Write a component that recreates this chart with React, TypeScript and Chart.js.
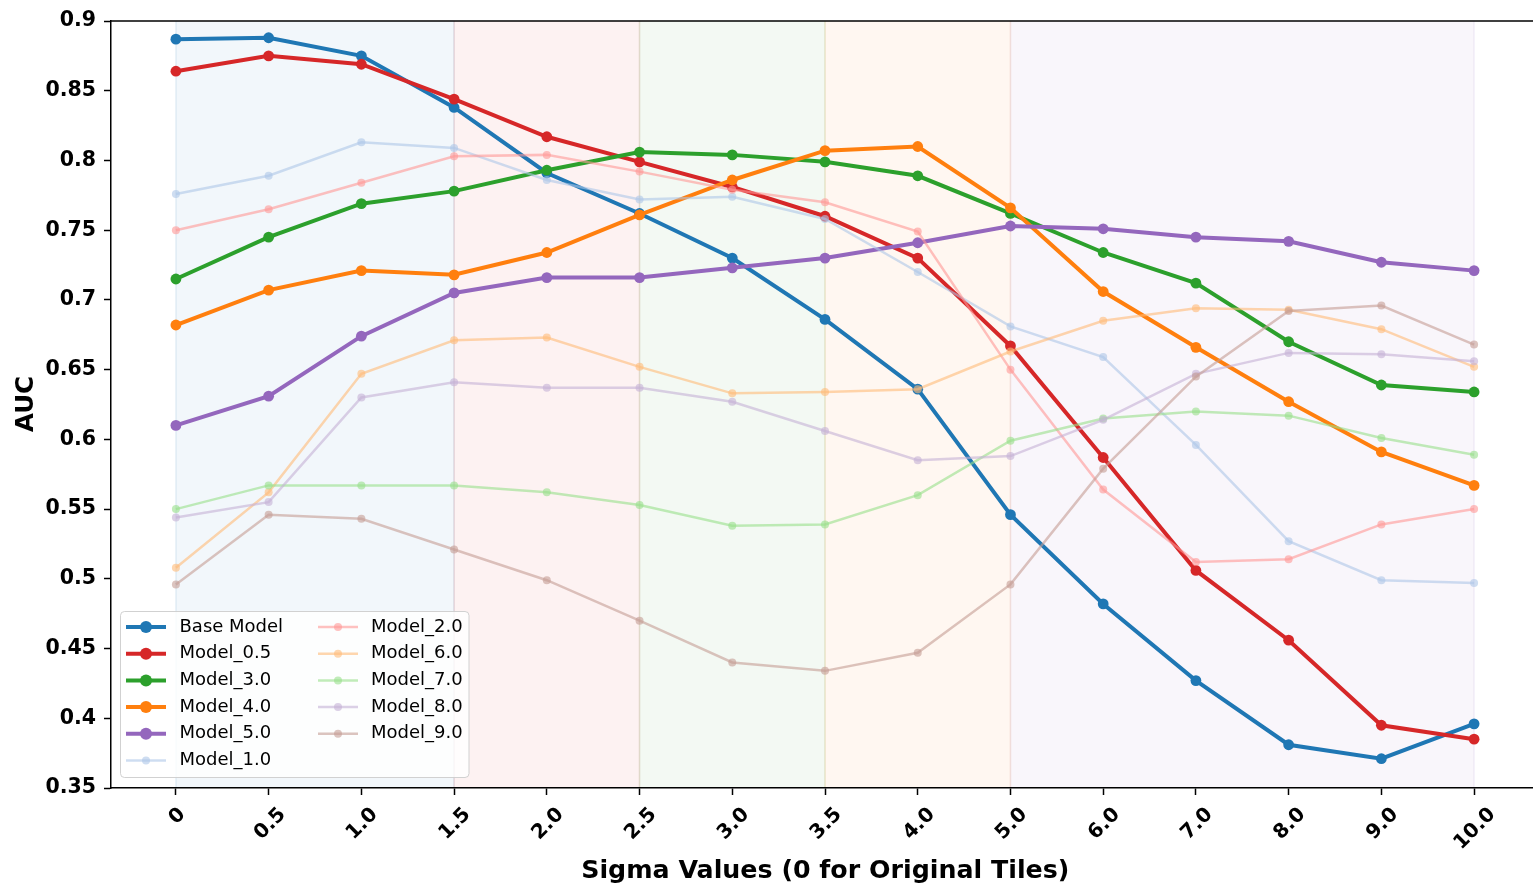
import React, { useEffect, useRef } from "react";
import { Chart, registerables } from "chart.js";

Chart.register(...registerables);

// ---------- data ----------
const xLabels = ["0", "0.5", "1.0", "1.5", "2.0", "2.5", "3.0", "3.5", "4.0", "5.0", "6.0", "7.0", "8.0", "9.0", "10.0"];

const yTicks = [0.35, 0.4, 0.45, 0.5, 0.55, 0.6, 0.65, 0.7, 0.75, 0.8, 0.85, 0.9];
const yTickLabels = ["0.35", "0.4", "0.45", "0.5", "0.55", "0.6", "0.65", "0.7", "0.75", "0.8", "0.85", "0.9"];

const baseModel = [0.887, 0.888, 0.875, 0.838, 0.791, 0.762, 0.730, 0.686, 0.636, 0.546, 0.482, 0.427, 0.381, 0.371, 0.396];
const model05 = [0.864, 0.875, 0.869, 0.844, 0.817, 0.799, 0.781, 0.760, 0.730, 0.667, 0.587, 0.506, 0.456, 0.395, 0.385];
const model30 = [0.715, 0.745, 0.769, 0.778, 0.793, 0.806, 0.804, 0.799, 0.789, 0.762, 0.734, 0.712, 0.670, 0.639, 0.634];
const model40 = [0.682, 0.707, 0.721, 0.718, 0.734, 0.761, 0.786, 0.807, 0.810, 0.766, 0.706, 0.666, 0.627, 0.591, 0.567];
const model50 = [0.610, 0.631, 0.674, 0.705, 0.716, 0.716, 0.723, 0.730, 0.741, 0.753, 0.751, 0.745, 0.742, 0.727, 0.721];
const model10 = [0.776, 0.789, 0.813, 0.809, 0.786, 0.772, 0.774, 0.758, 0.720, 0.681, 0.659, 0.596, 0.527, 0.499, 0.497];
const model20 = [0.750, 0.765, 0.784, 0.803, 0.804, 0.792, 0.779, 0.770, 0.749, 0.650, 0.564, 0.512, 0.514, 0.539, 0.550];
const model60 = [0.508, 0.562, 0.647, 0.671, 0.673, 0.652, 0.633, 0.634, 0.636, 0.663, 0.685, 0.694, 0.693, 0.679, 0.652];
const model70 = [0.550, 0.567, 0.567, 0.567, 0.562, 0.553, 0.538, 0.539, 0.560, 0.599, 0.615, 0.620, 0.617, 0.601, 0.589];
const model80 = [0.544, 0.555, 0.630, 0.641, 0.637, 0.637, 0.627, 0.606, 0.585, 0.588, 0.614, 0.647, 0.662, 0.661, 0.656];
const model90 = [0.496, 0.546, 0.543, 0.521, 0.499, 0.470, 0.440, 0.434, 0.447, 0.496, 0.579, 0.645, 0.692, 0.696, 0.668];

const seriesNames = ["Base Model", "Model_0.5", "Model_3.0", "Model_4.0", "Model_5.0", "Model_1.0", "Model_2.0", "Model_6.0", "Model_7.0", "Model_8.0", "Model_9.0"];
const seriesValues = [baseModel, model05, model30, model40, model50, model10, model20, model60, model70, model80, model90];

// shaded sigma bands (by x category label)
const bandStarts = ["0", "1.5", "2.5", "3.5", "5.0"];
const bandEnds = ["1.5", "2.5", "3.5", "5.0", "10.0"];

const xTitle = "Sigma Values (0 for Original Tiles)";
const yTitle = "AUC";

// ---------- styles ----------
const FONT = "'DejaVu Sans', 'Liberation Sans', sans-serif";
const seriesColors = [
  "rgb(31,119,180)",
  "rgb(214,39,40)",
  "rgb(44,160,44)",
  "rgb(255,127,14)",
  "rgb(148,103,189)",
  "rgba(174,199,232,0.6)",
  "rgba(255,152,150,0.6)",
  "rgba(255,187,120,0.6)",
  "rgba(152,223,138,0.6)",
  "rgba(197,176,213,0.6)",
  "rgba(196,156,148,0.6)",
];
const seriesMain = [true, true, true, true, true, false, false, false, false, false, false];
const bandRGB = ["31,119,180", "214,39,40", "44,160,44", "255,127,14", "148,103,189"];

function inkText(ctx: CanvasRenderingContext2D, text: string, cx: number, cy: number, angle: number) {
  const m = ctx.measureText(text);
  const l = m.actualBoundingBoxLeft;
  const r = m.actualBoundingBoxRight;
  const a = m.actualBoundingBoxAscent;
  const d = m.actualBoundingBoxDescent;
  ctx.save();
  ctx.translate(cx, cy);
  ctx.rotate(angle);
  ctx.textAlign = "left";
  ctx.textBaseline = "alphabetic";
  ctx.fillText(text, -(r - l) / 2, (a - d) / 2);
  ctx.restore();
  return { w: l + r, h: a + d };
}

const decorPlugin = {
  id: "decor",
  beforeDraw(chart: any) {
    const { ctx, chartArea } = chart;
    const xs = chart.scales.x;
    ctx.save();
    ctx.fillStyle = "#ffffff";
    ctx.fillRect(0, 0, chart.width, chart.height);
    bandStarts.forEach((s, i) => {
      const x0 = xs.getPixelForValue(xLabels.indexOf(s));
      const x1 = xs.getPixelForValue(xLabels.indexOf(bandEnds[i]));
      ctx.fillStyle = `rgba(${bandRGB[i]},0.06)`;
      ctx.fillRect(x0, chartArea.top, x1 - x0, chartArea.bottom - chartArea.top);
      ctx.strokeStyle = `rgba(${bandRGB[i]},0.1)`;
      ctx.lineWidth = 1.5;
      ctx.beginPath();
      ctx.moveTo(x0, chartArea.top);
      ctx.lineTo(x0, chartArea.bottom);
      ctx.moveTo(x1, chartArea.top);
      ctx.lineTo(x1, chartArea.bottom);
      ctx.stroke();
    });
    ctx.restore();
  },
  afterDraw(chart: any) {
    const { ctx, chartArea } = chart;
    const xs = chart.scales.x;
    ctx.save();
    // top spine
    ctx.strokeStyle = "#000";
    ctx.lineWidth = 1.5;
    ctx.beginPath();
    ctx.moveTo(chartArea.left, chartArea.top);
    ctx.lineTo(chartArea.right, chartArea.top);
    ctx.stroke();

    // x tick labels rotated 45, centred on tick
    ctx.fillStyle = "#000";
    ctx.font = `bold 20px ${FONT}`;
    xLabels.forEach((lab, i) => {
      const px = xs.getPixelForValue(i);
      const m = ctx.measureText(lab);
      const L = m.actualBoundingBoxLeft + m.actualBoundingBoxRight;
      const H = m.actualBoundingBoxAscent + m.actualBoundingBoxDescent;
      const diag = (L + H) * Math.SQRT1_2;
      inkText(ctx, lab, px, chartArea.bottom + 18 + diag / 2, -Math.PI / 4);
    });

    // axis titles
    ctx.font = `bold 25.3px ${FONT}`;
    inkText(ctx, xTitle, (chartArea.left + chartArea.right) / 2, 871, 0);
    ctx.font = `bold 24.5px ${FONT}`;
    inkText(ctx, yTitle, 24, (chartArea.top + chartArea.bottom) / 2, -Math.PI / 2);

    // legend
    const bx = 120.5, by = 611.5, bw = 348.5, bh = 166, rad = 4;
    ctx.beginPath();
    ctx.moveTo(bx + rad, by);
    ctx.lineTo(bx + bw - rad, by);
    ctx.arcTo(bx + bw, by, bx + bw, by + rad, rad);
    ctx.lineTo(bx + bw, by + bh - rad);
    ctx.arcTo(bx + bw, by + bh, bx + bw - rad, by + bh, rad);
    ctx.lineTo(bx + rad, by + bh);
    ctx.arcTo(bx, by + bh, bx, by + bh - rad, rad);
    ctx.lineTo(bx, by + rad);
    ctx.arcTo(bx, by, bx + rad, by, rad);
    ctx.closePath();
    ctx.fillStyle = "rgba(255,255,255,0.8)";
    ctx.fill();
    ctx.strokeStyle = "rgba(204,204,204,0.9)";
    ctx.lineWidth = 1;
    ctx.stroke();

    ctx.font = `18px ${FONT}`;
    ctx.textBaseline = "middle";
    ctx.textAlign = "left";
    const rowH = 26.7;
    chart.data.datasets.forEach((ds: any, i: number) => {
      const col = i < 6 ? 0 : 1;
      const row = col === 0 ? i : i - 6;
      const lx = col === 0 ? 126 : 318;
      const tx = col === 0 ? 179.5 : 371;
      const y = 627 + row * rowH;
      ctx.strokeStyle = ds.borderColor;
      ctx.lineWidth = ds.borderWidth;
      ctx.beginPath();
      ctx.moveTo(lx, y);
      ctx.lineTo(lx + 40, y);
      ctx.stroke();
      ctx.fillStyle = ds.pointBackgroundColor;
      ctx.beginPath();
      ctx.arc(lx + 20, y, ds.pointRadius + (seriesMain[i] ? 0.6 : 0), 0, Math.PI * 2);
      ctx.fill();
      ctx.fillStyle = "#000";
      ctx.fillText(ds.label, tx, y);
    });
    ctx.restore();
  },
};

export default function App() {
  const ref = useRef<HTMLCanvasElement | null>(null);

  useEffect(() => {
    if (!ref.current) return;
    const n = seriesNames.length;
    const datasets = seriesNames.map((name, i) => {
      const main = seriesMain[i];
      return {
        label: name,
        data: seriesValues[i].map((v, j) => ({ x: j, y: v })),
        borderColor: seriesColors[i],
        backgroundColor: seriesColors[i],
        pointBackgroundColor: seriesColors[i],
        pointBorderColor: seriesColors[i],
        pointBorderWidth: 0,
        pointRadius: main ? 5.4 : 4,
        borderWidth: main ? 4 : 2.5,
        tension: 0,
        fill: false,
        order: n - i,
      };
    });

    const chart = new Chart(ref.current, {
      type: "line",
      data: { datasets },
      options: {
        animation: false,
        responsive: false,
        devicePixelRatio: 1,
        events: [],
        layout: { padding: { top: 21, left: 0, right: 6, bottom: 0 } },
        plugins: { legend: { display: false }, tooltip: { enabled: false } },
        scales: {
          x: {
            type: "linear",
            min: -0.7,
            max: 14.7,
            afterBuildTicks: (scale: any) => {
              scale.ticks = xLabels.map((_, i) => ({ value: i }));
            },
            afterFit: (scale: any) => {
              scale.height = 98;
            },
            ticks: { display: false },
            grid: {
              display: true,
              drawOnChartArea: false,
              drawTicks: true,
              tickLength: 7,
              tickWidth: 1.5,
              tickColor: "#000",
            },
            border: { display: true, color: "#000", width: 1.5 },
          },
          y: {
            type: "linear",
            min: 0.35,
            max: 0.9,
            afterBuildTicks: (scale: any) => {
              scale.ticks = yTicks.map((v) => ({ value: v }));
            },
            afterFit: (scale: any) => {
              scale.width = 111;
            },
            ticks: {
              color: "#000",
              padding: 8,
              font: { family: FONT, size: 20.5, weight: "bold" },
              callback: (value: any) => {
                const idx = yTicks.findIndex((t) => Math.abs(t - Number(value)) < 1e-6);
                return idx >= 0 ? yTickLabels[idx] : "";
              },
            },
            grid: {
              display: true,
              drawOnChartArea: false,
              drawTicks: true,
              tickLength: 7,
              tickWidth: 1.5,
              tickColor: "#000",
            },
            border: { display: true, color: "#000", width: 1.5 },
          },
        },
      },
      plugins: [decorPlugin],
    } as any);

    return () => chart.destroy();
  }, []);

  return (
    <div style={{ position: "fixed", left: 0, top: 0, width: 1533, height: 886, overflow: "hidden", background: "#fff" }}>
      <canvas ref={ref} width={1545} height={886} style={{ width: 1545, height: 886, display: "block" }} />
    </div>
  );
}
